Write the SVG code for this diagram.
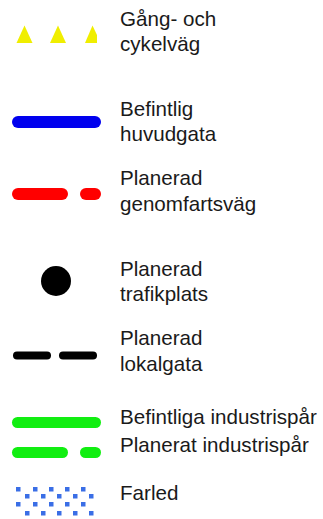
<svg xmlns="http://www.w3.org/2000/svg" width="323" height="519" viewBox="0 0 323 519">
<style>
text{font-family:"Liberation Sans",Arial,sans-serif;font-size:20.6px;fill:#1a1a1a}
.ln{fill:none;stroke-linecap:round}
.blue{stroke:#0000ee;stroke-width:12}
.red{stroke:#ff0000;stroke-width:12}
.blk{stroke:#000;stroke-width:8}
.grn{stroke:#11ee11;stroke-width:11}
.tri{fill:#f0ee00}
.dot{fill:#3a6ee6}
</style>
<rect width="323" height="519" fill="#fff"/>
<g id="gang-cykel">
<polygon class="tri" points="16.5,43 24.5,25.5 32.5,43"/>
<polygon class="tri" points="50,43 58,25.5 66,43"/>
<polygon class="tri" points="85,43 92.5,25.5 97,35 97,43"/>
<text x="120" y="26">Gång- och</text>
<text x="120" y="51">cykelväg</text>
</g>
<g id="befintlig-huvudgata">
<line class="ln blue" x1="18" y1="122" x2="95" y2="122"/>
<text x="120" y="116">Befintlig</text>
<text x="120" y="141">huvudgata</text>
</g>
<g id="planerad-genomfartsvag">
<line class="ln red" x1="18" y1="194" x2="62" y2="194"/>
<line class="ln red" x1="86" y1="194" x2="95" y2="194"/>
<text x="120" y="185">Planerad</text>
<text x="120" y="211">genomfartsväg</text>
</g>
<g id="planerad-trafikplats">
<circle cx="56" cy="281" r="15" fill="#000"/>
<text x="120" y="276">Planerad</text>
<text x="120" y="301">trafikplats</text>
</g>
<g id="planerad-lokalgata">
<line class="ln blk" x1="17" y1="355.5" x2="47" y2="355.5"/>
<line class="ln blk" x1="63" y1="355.5" x2="93" y2="355.5"/>
<text x="120" y="345">Planerad</text>
<text x="120" y="371">lokalgata</text>
</g>
<g id="befintliga-industrispar">
<line class="ln grn" x1="17.5" y1="422.5" x2="95.5" y2="422.5"/>
<text x="120" y="424">Befintliga industrispår</text>
</g>
<g id="planerat-industrispar">
<line class="ln grn" x1="17.5" y1="452.5" x2="62.5" y2="452.5"/>
<line class="ln grn" x1="85.5" y1="452.5" x2="95.5" y2="452.5"/>
<text x="120" y="452">Planerat industrispår</text>
</g>
<g id="farled">
<g class="dot">
<rect x="16" y="487" width="4.5" height="4.5"/><rect x="33" y="487" width="4.5" height="4.5"/><rect x="49" y="487" width="4.5" height="4.5"/><rect x="65" y="487" width="4.5" height="4.5"/><rect x="81" y="487" width="4.5" height="4.5"/>
<rect x="25" y="494" width="4.5" height="4.5"/><rect x="41" y="494" width="4.5" height="4.5"/><rect x="57" y="494" width="4.5" height="4.5"/><rect x="73" y="494" width="4.5" height="4.5"/><rect x="89" y="494" width="4.5" height="4.5"/>
<rect x="16" y="502" width="4.5" height="4.5"/><rect x="33" y="502" width="4.5" height="4.5"/><rect x="49" y="502" width="4.5" height="4.5"/><rect x="65" y="502" width="4.5" height="4.5"/><rect x="81" y="502" width="4.5" height="4.5"/>
<rect x="25" y="511" width="4.5" height="4.5"/><rect x="41" y="511" width="4.5" height="4.5"/><rect x="57" y="511" width="4.5" height="4.5"/><rect x="73" y="511" width="4.5" height="4.5"/><rect x="89" y="511" width="4.5" height="4.5"/>
</g>
<text x="120" y="500">Farled</text>
</g>
</svg>
